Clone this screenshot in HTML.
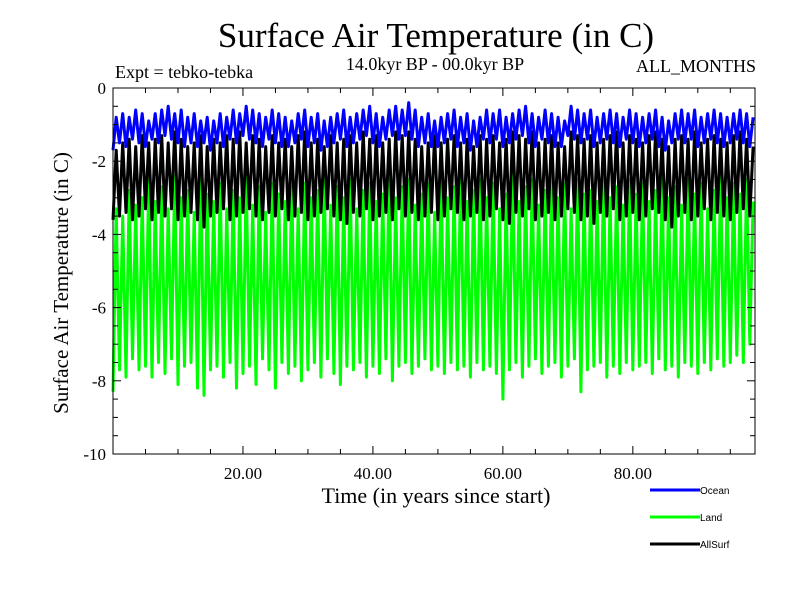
<!DOCTYPE html>
<html><head><meta charset="utf-8"><style>
body{margin:0;background:#fff;}
svg text{font-family:"Liberation Serif",serif;}
</style></head><body>
<svg id="c" width="800" height="600" xmlns="http://www.w3.org/2000/svg">
<rect width="800" height="600" fill="#fff"/>
<text x="436" y="47" font-size="35" text-anchor="middle">Surface Air Temperature (in C)</text>
<text x="115" y="78" font-size="18">Expt = tebko-tebka</text>
<text x="435" y="70" font-size="18" text-anchor="middle">14.0kyr BP - 00.0kyr BP</text>
<text x="756" y="72" font-size="18" text-anchor="end">ALL_MONTHS</text>
<text x="436" y="503" font-size="22" text-anchor="middle">Time (in years since start)</text>
<text transform="translate(68,283) rotate(-90)" font-size="21" text-anchor="middle">Surface Air Temperature (in C)</text>
<g id="plot"></g>
<g id="axes"></g>
<g>
<line x1="650" y1="490" x2="700" y2="490" stroke="#0000ff" stroke-width="3"/>
<text x="700" y="494" style="font-family:'Liberation Sans',sans-serif" font-size="10">Ocean</text>
<line x1="650" y1="517" x2="700" y2="517" stroke="#00ff00" stroke-width="3"/>
<text x="700" y="521" style="font-family:'Liberation Sans',sans-serif" font-size="10">Land</text>
<line x1="650" y1="544" x2="700" y2="544" stroke="#000" stroke-width="3"/>
<text x="700" y="548" style="font-family:'Liberation Sans',sans-serif" font-size="10">AllSurf</text>
</g>
</svg>
<script>
const xTicks=[20,40,60,80];
const xTickLabels=["20.00","40.00","60.00","80.00"];
const yTicks=[0,-2,-4,-6,-8,-10];
const yTickLabels=["0","-2","-4","-6","-8","-10"];
const oceanMax=[-0.8,-0.7,-0.8,-0.6,-0.7,-0.9,-0.7,-0.6,-0.5,-0.7,-0.6,-0.8,-0.7,-0.9,-0.8,-0.9,-0.7,-0.8,-0.6,-0.7,-0.5,-0.6,-0.7,-0.8,-0.6,-0.7,-0.8,-0.9,-0.7,-0.6,-0.8,-0.7,-0.9,-0.8,-0.7,-0.6,-0.8,-0.7,-0.6,-0.5,-0.7,-0.8,-0.6,-0.5,-0.6,-0.4,-0.6,-0.8,-0.7,-0.9,-0.8,-0.7,-0.6,-0.8,-0.7,-0.9,-0.8,-0.6,-0.7,-0.6,-0.8,-0.7,-0.6,-0.5,-0.7,-0.8,-0.6,-0.7,-0.8,-0.9,-0.5,-0.6,-0.7,-0.6,-0.8,-0.7,-0.6,-0.7,-0.8,-0.6,-0.7,-0.8,-0.7,-0.6,-0.8,-0.9,-0.7,-0.6,-0.7,-0.6,-0.8,-0.7,-0.6,-0.7,-0.8,-0.7,-0.6,-0.7,-0.8];
const oceanMin=[-1.7,-1.5,-1.6,-1.4,-1.5,-1.6,-1.4,-1.5,-1.3,-1.4,-1.5,-1.6,-1.5,-1.6,-1.5,-1.7,-1.5,-1.6,-1.4,-1.5,-1.3,-1.4,-1.5,-1.6,-1.4,-1.5,-1.6,-1.6,-1.5,-1.4,-1.6,-1.5,-1.7,-1.6,-1.5,-1.4,-1.6,-1.5,-1.4,-1.3,-1.5,-1.6,-1.4,-1.3,-1.4,-1.3,-1.4,-1.6,-1.5,-1.6,-1.6,-1.5,-1.4,-1.6,-1.5,-1.7,-1.6,-1.4,-1.5,-1.4,-1.6,-1.5,-1.4,-1.3,-1.5,-1.6,-1.4,-1.5,-1.6,-1.6,-1.3,-1.4,-1.5,-1.4,-1.6,-1.5,-1.4,-1.5,-1.6,-1.4,-1.5,-1.6,-1.5,-1.4,-1.6,-1.7,-1.5,-1.4,-1.5,-1.4,-1.6,-1.5,-1.4,-1.5,-1.6,-1.5,-1.4,-1.5,-1.6];
const allMax=[-1.7,-1.5,-1.4,-1.6,-1.3,-1.5,-1.4,-1.3,-1.5,-1.2,-1.4,-1.6,-1.5,-1.3,-1.6,-1.4,-1.5,-1.3,-1.4,-1.2,-1.5,-1.3,-1.4,-1.6,-1.3,-1.5,-1.4,-1.6,-1.3,-1.2,-1.5,-1.4,-1.6,-1.3,-1.5,-1.4,-1.3,-1.5,-1.2,-1.4,-1.3,-1.5,-1.4,-1.2,-1.3,-1.2,-1.4,-1.6,-1.5,-1.3,-1.5,-1.4,-1.3,-1.5,-1.4,-1.6,-1.3,-1.4,-1.3,-1.5,-1.4,-1.2,-1.3,-1.4,-1.2,-1.5,-1.4,-1.3,-1.5,-1.6,-1.2,-1.3,-1.4,-1.3,-1.5,-1.4,-1.3,-1.2,-1.5,-1.3,-1.4,-1.5,-1.3,-1.2,-1.4,-1.6,-1.4,-1.3,-1.4,-1.2,-1.5,-1.4,-1.3,-1.4,-1.5,-1.3,-1.2,-1.4,-1.6];
const allMin=[-3.6,-3.5,-3.4,-3.6,-3.5,-3.3,-3.6,-3.4,-3.5,-3.3,-3.6,-3.5,-3.4,-3.6,-3.8,-3.5,-3.4,-3.3,-3.6,-3.5,-3.4,-3.3,-3.5,-3.6,-3.4,-3.5,-3.3,-3.6,-3.5,-3.4,-3.6,-3.5,-3.4,-3.3,-3.5,-3.6,-3.7,-3.4,-3.5,-3.3,-3.6,-3.5,-3.4,-3.6,-3.3,-3.5,-3.4,-3.6,-3.5,-3.4,-3.6,-3.5,-3.3,-3.4,-3.6,-3.5,-3.4,-3.6,-3.5,-3.3,-3.6,-3.7,-3.4,-3.5,-3.3,-3.6,-3.5,-3.4,-3.6,-3.5,-3.3,-3.4,-3.6,-3.5,-3.7,-3.4,-3.5,-3.3,-3.6,-3.5,-3.4,-3.6,-3.5,-3.3,-3.4,-3.6,-3.8,-3.5,-3.4,-3.6,-3.5,-3.3,-3.6,-3.4,-3.5,-3.6,-3.4,-3.3,-3.5];
const landMax=[-3.3,-3.5,-2.8,-3.2,-3.0,-2.5,-3.1,-2.7,-3.3,-2.4,-3.0,-2.8,-3.4,-2.2,-2.9,-3.1,-2.6,-3.3,-2.8,-3.0,-2.4,-3.2,-2.7,-3.4,-2.6,-2.9,-3.1,-2.5,-3.3,-2.6,-3.0,-2.8,-2.4,-3.2,-2.7,-3.0,-2.5,-3.3,-2.8,-2.6,-3.1,-2.9,-2.2,-3.0,-2.7,-2.5,-3.2,-2.9,-2.6,-3.4,-2.4,-3.0,-2.7,-2.3,-3.1,-2.8,-2.5,-3.0,-2.6,-3.3,-2.9,-2.2,-3.1,-2.7,-2.5,-3.2,-2.8,-2.4,-3.0,-2.6,-3.3,-2.5,-2.9,-2.8,-3.1,-2.4,-3.0,-2.7,-3.2,-2.5,-2.9,-2.6,-3.1,-2.8,-2.4,-3.0,-2.7,-3.2,-2.5,-2.9,-2.6,-3.3,-2.8,-2.4,-3.0,-2.6,-2.9,-2.5,-3.1];
const landMin=[-8.3,-7.7,-7.9,-7.4,-7.7,-7.6,-7.9,-7.5,-7.8,-7.4,-8.1,-7.6,-7.5,-8.2,-8.4,-7.7,-7.6,-7.9,-7.5,-8.2,-7.8,-7.6,-8.1,-7.4,-7.7,-8.2,-7.5,-7.8,-7.6,-8.0,-7.7,-7.5,-7.9,-7.4,-7.8,-8.1,-7.6,-7.7,-7.5,-7.9,-7.6,-7.8,-7.4,-8.0,-7.6,-7.5,-7.8,-7.6,-7.4,-7.7,-7.6,-7.8,-7.5,-7.7,-7.6,-7.9,-7.5,-7.7,-7.6,-7.8,-8.5,-7.7,-7.5,-7.9,-7.6,-7.4,-7.8,-7.6,-7.5,-7.9,-7.6,-7.4,-8.3,-7.7,-7.6,-7.5,-7.9,-7.6,-7.8,-7.5,-7.7,-7.6,-7.5,-7.8,-7.4,-7.7,-7.6,-7.9,-7.5,-7.6,-7.8,-7.5,-7.7,-7.4,-7.6,-7.5,-7.3,-7.5,-7.0];
const X0=113,X1=755,Y0=88,Y1=454,xMin=0,xMax=98.8,yMin=-10,yMax=0;
function xs(v){return X0+(v-xMin)/(xMax-xMin)*(X1-X0);}
function ys(v){return Y0+(yMax-v)/(yMax-yMin)*(Y1-Y0);}
const NS="http://www.w3.org/2000/svg";
const plot=document.getElementById('plot'),axes=document.getElementById('axes');
function mk(tag,attrs,parent){const e=document.createElementNS(NS,tag);for(const k in attrs)e.setAttribute(k,attrs[k]);parent.appendChild(e);return e;}
function series(mx,mn,color,name){
  let d="";
  for(let i=0;i<mx.length;i++){
    const t=i;
    d+=(i?"L":"M")+xs(t).toFixed(1)+","+ys(mn[i]).toFixed(1);
    d+="L"+xs(t+0.5).toFixed(1)+","+ys(mx[i]).toFixed(1);
  }
  const p=mk('path',{d:d,fill:'none',stroke:color,'stroke-width':3,'stroke-linejoin':'round'},plot);
  
  
}
series(landMax,landMin,'#00ff00','land-line');
series(allMax,allMin,'#000000','allsurf-line');
series(oceanMax,oceanMin,'#0000ff','ocean-line');
const fr=mk('rect',{x:X0,y:Y0,width:X1-X0,height:Y1-Y0,fill:'none',stroke:'#000','stroke-width':1},axes);


for(let v=5;v<xMax;v+=5){
  const L=(v%20===0)?8:5;
  mk('line',{x1:xs(v),x2:xs(v),y1:Y1,y2:Y1-L,stroke:'#000'},axes);
  mk('line',{x1:xs(v),x2:xs(v),y1:Y0,y2:Y0+L,stroke:'#000'},axes);
}
for(let v=-0.5;v>yMin;v-=0.5){
  const L=(Math.abs(v)%2===0)?8:5;
  mk('line',{x1:X0,x2:X0+L,y1:ys(v),y2:ys(v),stroke:'#000'},axes);
  mk('line',{x1:X1,x2:X1-L,y1:ys(v),y2:ys(v),stroke:'#000'},axes);
}
xTicks.forEach((v,i)=>{
  const t=mk('text',{x:xs(v),y:479,'font-size':17,'text-anchor':'middle'},axes);
  t.textContent=xTickLabels[i];
  
  
});
yTicks.forEach((v,i)=>{
  const t=mk('text',{x:106,y:ys(v)+6,'font-size':17,'text-anchor':'end'},axes);
  t.textContent=yTickLabels[i];
  
  
});
</script>
</body></html>
